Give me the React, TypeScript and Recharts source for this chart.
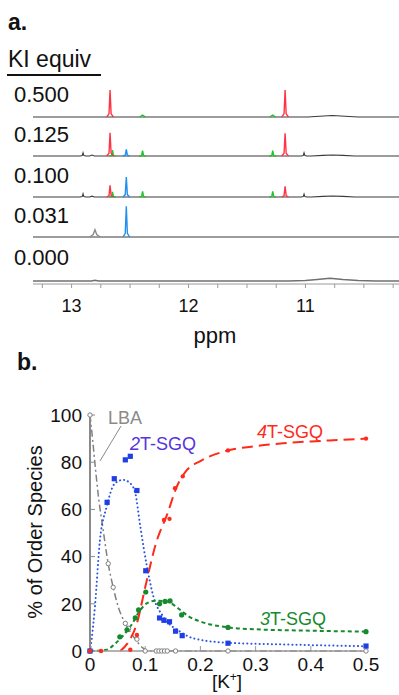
import React from "react";
import { LineChart, Line, XAxis, YAxis } from "recharts";

const FONT = '"Liberation Sans", Arial, Helvetica, sans-serif';

// ---------- panel a: 1H NMR imino region, one trace per KI equiv ----------
const kiLabels = ["0.500", "0.125", "0.100", "0.031", "0.000"];
const ppmTicks = [13.25, 13, 12.75, 12.5, 12.25, 12, 11.75, 11.5, 11.25, 11, 10.75, 10.5, 10.25];

// 0.500
const black500Ppm = [13.34, 10.98, 10.88, 10.77, 10.66, 10.55, 10.19];
const black500Int = [0, 0, 0.8, 1.5, 0.8, 0, 0];
const green500Ppm = [12.418, 12.393, 12.368, 12.0, 11.305, 11.28, 11.255];
const green500Int = [0, 2, 0, null, 0, 2, 0];
const red500Ppm = [12.7, 12.68, 12.671, 12.662, 12.642, 12.0, 11.203, 11.183, 11.174, 11.165, 11.145];
const red500Int = [0, 3.2, 27, 3.2, 0, null, 0, 3.2, 27, 3.2, 0];

// 0.125
const black125Ppm = [13.34, 12.927, 12.909, 12.902, 12.895, 12.877, 12.845, 12.825, 12.805, 11.037, 11.019, 11.012, 11.005, 10.987, 10.95, 10.85, 10.77, 10.68, 10.58, 10.19];
const black125Int = [0, 0, 0.4, 3.3, 0.4, 0, 0, 1, 0, 0, 0.4, 3.3, 0.4, 0, 0, 0.6, 1, 0.6, 0, 0];
const green125Ppm = [12.675, 12.657, 12.65, 12.643, 12.625, 12.5, 12.42, 12.401, 12.393, 12.385, 12.366, 12.0, 11.307, 11.288, 11.28, 11.272, 11.253];
const green125Int = [0, 0.7, 6, 0.7, 0, null, 0, 0.6, 5.3, 0.6, 0, null, 0, 0.6, 5.3, 0.6, 0];
const blue125Ppm = [12.56, 12.541, 12.532, 12.523, 12.504];
const blue125Int = [0, 0.8, 6.7, 0.8, 0];
const red125Int = [0, 2.8, 23.3, 2.8, 0, null, 0, 2.7, 22.7, 2.7, 0];

// 0.100
const black100Int = [0, 0, 0.4, 3.3, 0.4, 0, 0, 0.8, 0, 0, 0.4, 3, 0.4, 0, 0, 0.6, 1, 0.6, 0, 0];
const green100Int = [0, 0.6, 5, 0.6, 0, null, 0, 0.7, 5.7, 0.7, 0, null, 0, 0.7, 5.7, 0.7, 0];
const blue100Int = [0, 2.4, 20, 2.4, 0];
const red100Int = [0, 1.4, 11.7, 1.4, 0, null, 0, 1.3, 10.7, 1.3, 0];

// 0.031
const black031Ppm = [13.34, 10.19];
const black031Int = [0, 0];
const gray031Ppm = [12.845, 12.815, 12.8, 12.785, 12.755];
const gray031Int = [0, 2.5, 7.3, 2.5, 0];
const blue031Int = [0, 3.7, 30.7, 3.7, 0];

// 0.000
const gray000Ppm = [13.34, 12.83, 12.8, 12.77, 11.15, 11.0, 10.9, 10.79, 10.68, 10.55, 10.4, 10.19];
const gray000Int = [0, 0, 0.7, 0, 0, 0.5, 1.5, 2.7, 1.5, 0.5, 0, 0];

// ---------- panel b: speciation vs [K+] ----------
const lbaFitX = [0, 0.005, 0.01, 0.015, 0.024, 0.033, 0.042, 0.051, 0.064, 0.079, 0.097, 0.11, 0.5];
const lbaFitY = [100, 89, 77, 66, 51, 37, 27, 18.8, 11.7, 6, 1.1, 0, 0];
const lbaX = [0, 0.033, 0.042, 0.064, 0.07, 0.085, 0.1, 0.12, 0.125, 0.13, 0.135, 0.14, 0.155, 0.25, 0.5];
const lbaY = [100, 37, 27, 11.7, 9.6, 5, 0, 0, 0, 0, 0, 0, 0, 0, 0];

const sgq2FitX = [0, 0.003, 0.009, 0.018, 0.03, 0.045, 0.06, 0.073, 0.082, 0.091, 0.103, 0.115, 0.133, 0.163, 0.19, 0.25, 0.35, 0.5];
const sgq2FitY = [0, 5, 19, 47, 61, 71, 72.5, 71, 67, 53, 36, 23, 14.5, 8.2, 5.2, 3.5, 2.8, 2];
const sgq2X = [0, 0.031, 0.044, 0.064, 0.073, 0.085, 0.101, 0.126, 0.134, 0.144, 0.155, 0.167, 0.25, 0.5];
const sgq2Y = [0, 63, 73, 81, 82.5, 68, 34, 14, 13, 12.4, 8.4, 6.5, 3.3, 2.1];

const sgq3FitX = [0, 0.03, 0.045, 0.06, 0.075, 0.09, 0.105, 0.12, 0.14, 0.16, 0.18, 0.2, 0.25, 0.3, 0.4, 0.5];
const sgq3FitY = [0, 0.5, 3, 6.5, 11, 17, 20.5, 21.3, 21, 18, 14.5, 12.5, 10, 9.2, 8.6, 8.2];
const sgq3X = [0, 0.054, 0.067, 0.082, 0.088, 0.101, 0.126, 0.136, 0.145, 0.166, 0.25, 0.5];
const sgq3Y = [0, 6, 9, 14, 17.4, 25, 20, 21, 21.2, 15.3, 10, 8.2];

const sgq4FitX = [0.055, 0.07, 0.085, 0.1, 0.12, 0.14, 0.157, 0.175, 0.2, 0.25, 0.3, 0.35, 0.4, 0.45, 0.5];
const sgq4FitY = [0, 4, 11.7, 27, 46, 58, 69.5, 76.5, 80.5, 85, 86.8, 88, 88.8, 89.4, 90];
const sgq4X = [0, 0.02, 0.073, 0.085, 0.134, 0.144, 0.154, 0.168, 0.25, 0.5];
const sgq4Y = [0, 0, 0.5, 6.8, 55.5, 56, 69, 74, 85, 90];

const kTicks = [0, 0.1, 0.2, 0.3, 0.4, 0.5];
const pctTicks = [0, 20, 40, 60, 80, 100];

const INK = "#3a3a3a";
const NMR_RED = "#ff3344";
const NMR_GREEN = "#22c02a";
const NMR_BLUE = "#2090f0";
const NMR_GRAY = "#8a8a8a";

const pts = (xs: number[], ys: (number | null)[]) => xs.map((x, i) => ({ x, y: ys[i] }));

type Seg = { color: string; data: { x: number; y: number | null }[] };

const traces: Seg[][] = [
  [
    { color: INK, data: pts(black500Ppm, black500Int) },
    { color: NMR_GREEN, data: pts(green500Ppm, green500Int) },
    { color: NMR_RED, data: pts(red500Ppm, red500Int) },
  ],
  [
    { color: INK, data: pts(black125Ppm, black125Int) },
    { color: NMR_GREEN, data: pts(green125Ppm, green125Int) },
    { color: NMR_BLUE, data: pts(blue125Ppm, blue125Int) },
    { color: NMR_RED, data: pts(red500Ppm, red125Int) },
  ],
  [
    { color: INK, data: pts(black125Ppm, black100Int) },
    { color: NMR_GREEN, data: pts(green125Ppm, green100Int) },
    { color: NMR_BLUE, data: pts(blue125Ppm, blue100Int) },
    { color: NMR_RED, data: pts(red500Ppm, red100Int) },
  ],
  [
    { color: INK, data: pts(black031Ppm, black031Int) },
    { color: NMR_GRAY, data: pts(gray031Ppm, gray031Int) },
    { color: NMR_BLUE, data: pts(blue125Ppm, blue031Int) },
  ],
  [{ color: "#707070", data: pts(gray000Ppm, gray000Int) }],
];

const baselines = [117, 156, 197, 237, 281];
const labelBaselines = [102, 142, 183, 223, 265];

function Trace({ segs, baseline, axis }: { segs: Seg[]; baseline: number; axis: boolean }) {
  const plotH = axis ? 45 : 44;
  const lo = axis ? -3 : -2;
  return (
    <div style={{ position: "absolute", left: 33, top: baseline - 42 }}>
      <LineChart width={366} height={plotH + (axis ? 42 : 0)} margin={{ top: 0, right: 0, bottom: 0, left: 0 }}>
        <XAxis
          type="number"
          dataKey="x"
          domain={[10.2, 13.33]}
          reversed
          allowDataOverflow
          hide={!axis}
          height={42}
          ticks={ppmTicks}
          interval={0}
          tickFormatter={(v: number) => (Number.isInteger(v) ? String(v) : "")}
          axisLine={{ stroke: "#9a9a9a" }}
          tickLine={{ stroke: "#9a9a9a" }}
          tickSize={4}
          tickMargin={11}
          tick={{ fontSize: 18, fill: "#111", fontFamily: FONT }}
        />
        <YAxis type="number" domain={[lo, 42]} hide allowDataOverflow />
        {segs.map((s, i) => (
          <Line
            key={i}
            data={s.data}
            dataKey="y"
            type="linear"
            stroke={s.color}
            strokeWidth={s.color === INK ? 1.1 : 1.4}
            dot={false}
            activeDot={false}
            isAnimationActive={false}
          />
        ))}
      </LineChart>
    </div>
  );
}

const square = (color: string) => (p: any) => (
  <rect key={`sq-${p.index}`} x={p.cx - 2.6} y={p.cy - 2.6} width={5.2} height={5.2} fill={color} />
);
const disc = (color: string, r: number) => (p: any) => (
  <circle key={`dc-${p.index}`} cx={p.cx} cy={p.cy} r={r} fill={color} />
);
const ring = (color: string) => (p: any) => (
  <circle key={`rg-${p.index}`} cx={p.cx} cy={p.cy} r={2.2} fill="#fff" stroke={color} strokeWidth={1} />
);

const GRAY = "#808080";
const BLUE = "#2a55e0";
const BLUE_MK = "#1f3ee6";
const GREEN = "#178a2e";
const RED = "#ff2a1a";

function Speciation() {
  return (
    <div style={{ position: "absolute", left: 0, top: 400 }}>
      <LineChart width={399} height={295} margin={{ top: 15, right: 33, bottom: 0, left: 0 }}>
        <XAxis
          type="number"
          dataKey="x"
          domain={[0, 0.5]}
          ticks={kTicks}
          interval={0}
          height={44}
          axisLine={{ stroke: "#9a9a9a", strokeWidth: 1.5 }}
          tickLine={{ stroke: "#9a9a9a" }}
          tickSize={-5}
          tickMargin={12}
          tick={{ fontSize: 19, fill: "#111", fontFamily: FONT }}
        />
        <YAxis
          type="number"
          domain={[0, 100]}
          ticks={pctTicks}
          interval={0}
          width={90}
          axisLine={{ stroke: "#8a8a8a", strokeWidth: 2 }}
          tickLine={{ stroke: "#8a8a8a" }}
          tickSize={-5}
          tickMargin={13}
          tick={{ fontSize: 19, fill: "#111", fontFamily: FONT }}
        />
        <Line data={pts(lbaFitX, lbaFitY)} dataKey="y" type="monotone" stroke={GRAY} strokeWidth={1.5}
          strokeDasharray="7 3 2 3" dot={false} activeDot={false} isAnimationActive={false} />
        <Line data={pts(sgq2FitX, sgq2FitY)} dataKey="y" type="monotone" stroke={BLUE} strokeWidth={2}
          strokeDasharray="0.1 4" strokeLinecap="round" dot={false} activeDot={false} isAnimationActive={false} />
        <Line data={pts(sgq3FitX, sgq3FitY)} dataKey="y" type="monotone" stroke={GREEN} strokeWidth={2}
          strokeDasharray="4 3" dot={false} activeDot={false} isAnimationActive={false} />
        <Line data={pts(sgq4FitX, sgq4FitY)} dataKey="y" type="monotone" stroke={RED} strokeWidth={2}
          strokeDasharray="11 6" dot={false} activeDot={false} isAnimationActive={false} />
        <Line data={pts(lbaX, lbaY)} dataKey="y" stroke="none" dot={ring(GRAY)} activeDot={false} isAnimationActive={false} />
        <Line data={pts(sgq3X, sgq3Y)} dataKey="y" stroke="none" dot={disc(GREEN, 2.6)} activeDot={false} isAnimationActive={false} />
        <Line data={pts(sgq2X, sgq2Y)} dataKey="y" stroke="none" dot={square(BLUE_MK)} activeDot={false} isAnimationActive={false} />
        <Line data={pts(sgq4X, sgq4Y)} dataKey="y" stroke="none" dot={disc(RED, 2.2)} activeDot={false} isAnimationActive={false} />
      </LineChart>
    </div>
  );
}

export default function App() {
  return (
    <div
      style={{
        position: "absolute",
        left: 0,
        top: 0,
        width: 399,
        height: 695,
        overflow: "hidden",
        background: "#fff",
        fontFamily: FONT,
      }}
    >
      {traces.map((segs, i) => (
        <Trace key={i} segs={segs} baseline={baselines[i]} axis={i === traces.length - 1} />
      ))}
      <Speciation />
      <svg width={399} height={695} style={{ position: "absolute", left: 0, top: 0, pointerEvents: "none" }}>
        <g fontFamily={FONT} fill="#111">
          <text x={8} y={30} fontSize={23} fontWeight="bold">a.</text>
          <text x={8} y={67} fontSize={23}>KI equiv</text>
          <line x1={7} x2={101} y1={75} y2={75} stroke="#111" strokeWidth={2} />
          {kiLabels.map((l, i) => (
            <text key={l} x={14} y={labelBaselines[i]} fontSize={22}>{l}</text>
          ))}
          <text x={215} y={343} fontSize={22} textAnchor="middle">ppm</text>
          <text x={17} y={370} fontSize={23} fontWeight="bold">b.</text>
          <text transform="translate(42,532) rotate(-90)" fontSize={20} textAnchor="middle">% of Order Species</text>
          <text x={227} y={688} fontSize={19} textAnchor="middle">
            [K<tspan dy={-7} fontSize={12}>+</tspan><tspan dy={7}>]</tspan>
          </text>
          <line x1={121} y1={426} x2={100} y2={461} stroke="#8a8a8a" strokeWidth={1} />
          <text x={108} y={424} fontSize={18} fill="#8a8a8a">LBA</text>
          <text x={130} y={450} fontSize={18} fill="#5533dd"><tspan fontStyle="italic">2</tspan>T-SGQ</text>
          <text x={257} y={438} fontSize={18} fill={RED}><tspan fontStyle="italic">4</tspan>T-SGQ</text>
          <text x={260} y={625} fontSize={18} fill={GREEN}><tspan fontStyle="italic">3</tspan>T-SGQ</text>
        </g>
      </svg>
    </div>
  );
}
